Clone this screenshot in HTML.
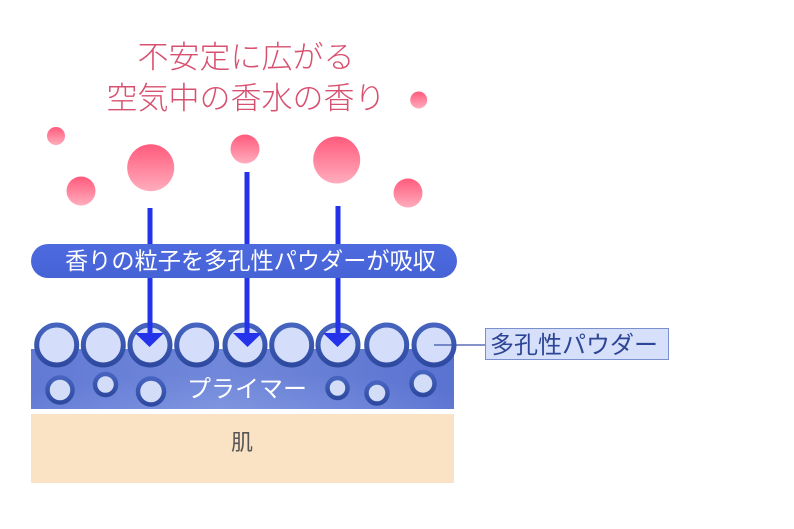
<!DOCTYPE html>
<html>
<head>
<meta charset="utf-8">
<style>
  html,body{margin:0;padding:0;background:#fff;}
  svg{display:block;}
  text{font-family:"Liberation Sans","Noto Sans CJK JP",sans-serif;}
  .light{font-weight:300;}
</style>
</head>
<body>
<svg width="794" height="529" viewBox="0 0 794 529" xmlns="http://www.w3.org/2000/svg">
  <defs>
    <linearGradient id="pink" x1="0" y1="0" x2="0" y2="1">
      <stop offset="0" stop-color="#ff5a7c"/>
      <stop offset="1" stop-color="#ffadbd"/>
    </linearGradient>
    <radialGradient id="primer" cx="0.5" cy="1" r="0.75" gradientTransform="translate(0.0 0) scale(1 1.6)">
      <stop offset="0" stop-color="#8fa5e8"/>
      <stop offset="1" stop-color="#5b73d1"/>
    </radialGradient>
    <linearGradient id="primer2" x1="0" y1="0" x2="1" y2="0">
      <stop offset="0" stop-color="#6a82d8"/>
      <stop offset="0.45" stop-color="#8aa0e4"/>
      <stop offset="1" stop-color="#5a72d0"/>
    </linearGradient>
    <linearGradient id="banner" x1="0" y1="0" x2="0" y2="1">
      <stop offset="0" stop-color="#4d6adf"/>
      <stop offset="1" stop-color="#4663d6"/>
    </linearGradient>
    <linearGradient id="ring" x1="0" y1="0" x2="0" y2="1">
      <stop offset="0" stop-color="#4664bf"/>
      <stop offset="1" stop-color="#2e4aa0"/>
    </linearGradient>
  </defs>

  <!-- Title -->
  <text class="light" x="246" y="68" font-size="31" fill="#d8506f" text-anchor="middle">不安定に広がる</text>
  <text class="light" x="246" y="109" font-size="31" fill="#d8506f" text-anchor="middle">空気中の香水の香り</text>

  <!-- Pink particles -->
  <circle cx="56" cy="136" r="9" fill="url(#pink)"/>
  <circle cx="81" cy="191" r="14.5" fill="url(#pink)"/>
  <circle cx="150.7" cy="167.7" r="23.5" fill="url(#pink)"/>
  <circle cx="245" cy="149" r="14.5" fill="url(#pink)"/>
  <circle cx="336.7" cy="160" r="23.5" fill="url(#pink)"/>
  <circle cx="408" cy="193" r="14.5" fill="url(#pink)"/>
  <circle cx="418.7" cy="100" r="8.5" fill="url(#pink)"/>

  <!-- Arrow lines -->
  <rect x="147.5" y="208" width="5" height="128" fill="#2433ea"/>
  <rect x="244.5" y="172" width="5" height="164" fill="#2433ea"/>
  <rect x="335.5" y="206" width="5" height="130" fill="#2433ea"/>

  <!-- Banner -->
  <rect x="31" y="244" width="426" height="34" rx="17" ry="17" fill="url(#banner)"/>
  <text x="65" y="269" font-size="23.2" fill="#ffffff">香りの粒子を多孔性パウダーが吸収</text>

  <!-- Skin -->
  <rect x="31" y="414" width="423" height="69" fill="#fae2c4"/>
  <text x="242" y="450" font-size="22" fill="#555555" text-anchor="middle">肌</text>

  <!-- Primer -->
  <rect x="31" y="349" width="423" height="60" fill="url(#primer2)"/>
  <rect x="31" y="349" width="423" height="60" fill="url(#primer)" opacity="0.55"/>

  <!-- Small circles -->
  <g fill="#d3ddf8" stroke="url(#ring)" stroke-width="4.5">
    <circle cx="60" cy="390" r="12.5"/>
    <circle cx="105.5" cy="384.5" r="10.5"/>
    <circle cx="151" cy="391.5" r="13"/>
    <circle cx="337.5" cy="388" r="10"/>
    <circle cx="377" cy="393" r="10.5"/>
    <circle cx="423" cy="383.5" r="11.5"/>
  </g>

  <text x="247" y="397" font-size="24" fill="#ffffff" text-anchor="middle">プライマー</text>

  <!-- Big circles -->
  <g fill="#d4defa" stroke="url(#ring)" stroke-width="5">
    <circle cx="56.7" cy="345" r="20"/>
    <circle cx="103.3" cy="345" r="20"/>
    <circle cx="150" cy="345" r="20"/>
    <circle cx="196.7" cy="345" r="20"/>
    <circle cx="245" cy="345" r="20"/>
    <circle cx="291.7" cy="345" r="20"/>
    <circle cx="338" cy="345" r="20"/>
    <circle cx="386.7" cy="345" r="20"/>
    <circle cx="434" cy="345" r="20"/>
  </g>

  <!-- Arrowheads -->
  <g fill="#2433ea">
    <rect x="147.5" y="320" width="5" height="16"/>
    <rect x="244.5" y="320" width="5" height="16"/>
    <rect x="335.5" y="320" width="5" height="16"/>
    <polygon points="135,333 164,333 149.5,347"/>
    <polygon points="233,333 262,333 247.5,347"/>
    <polygon points="323,333 352,333 337.5,347"/>
  </g>

  <!-- Label -->
  <line x1="434" y1="345" x2="485" y2="345" stroke="#3a55a8" stroke-width="1.2"/>
  <rect x="485.5" y="328.5" width="183" height="31" fill="#d6e0fa" stroke="#7a8fd0" stroke-width="1"/>
  <text x="490" y="353" font-size="24" fill="#2d4594">多孔性パウダー</text>
</svg>
</body>
</html>
